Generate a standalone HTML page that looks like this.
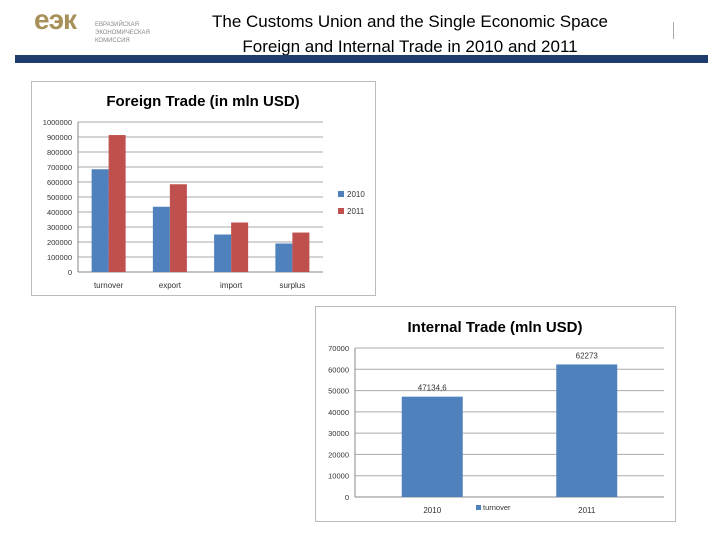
<!DOCTYPE html>
<html><head><meta charset="utf-8"><style>
body{margin:0;width:720px;height:540px;background:#fff;position:relative;overflow:hidden;font-family:"Liberation Sans",sans-serif}
.a{position:absolute}
</style></head><body>
<div class="a" style="left:34px;top:4px;font:bold 28px 'Liberation Sans',sans-serif;color:#a8905a;letter-spacing:-1px">еэк</div>
<div class="a" style="left:95px;top:21px;font-size:6px;line-height:8px;color:#888">ЕВРАЗИЙСКАЯ<br>ЭКОНОМИЧЕСКАЯ<br>КОМИССИЯ</div>
<div class="a" style="left:150px;top:9px;width:520px;text-align:center;font-size:17px;line-height:25px;color:#000">The Customs Union and the Single Economic Space<br>Foreign and Internal Trade in 2010 and 2011</div>
<div class="a" style="left:673px;top:22px;width:1px;height:17px;background:#aaa"></div>
<div class="a" style="left:15px;top:55px;width:693px;height:8px;background:#1f3c6e"></div>
<svg class="a" style="left:0;top:0" width="720" height="540" id="svg"></svg>
<script>
const fCats=["turnover","export","import","surplus"];
const f2010=[685000,435000,250000,190000];
const f2011=[913000,585000,330000,263000];
const fTicks=[0,100000,200000,300000,400000,500000,600000,700000,800000,900000,1000000];
const iCats=["2010","2011"];
const iVals=[47134.6,62273];
const iLabels=["47134,6","62273"];
const iTicks=[0,10000,20000,30000,40000,50000,60000,70000];
const NS="http://www.w3.org/2000/svg",svg=document.getElementById('svg');
function el(t,a,txt){const e=document.createElementNS(NS,t);for(const k in a)e.setAttribute(k,a[k]);if(txt!=null)e.textContent=txt;svg.appendChild(e);return e;}
// foreign chart
let box=el('rect',{x:31.5,y:81.5,width:344,height:214,fill:'#fff',stroke:'#bbb'});

let t=el('text',{x:203,y:106,'text-anchor':'middle','font-size':15,'font-weight':'bold',fill:'#000'},'Foreign Trade (in mln USD)');

const fx0=78,fx1=323,fy0=272,fy1=122;
const fy=v=>fy0-(v/1000000)*(fy0-fy1);
fTicks.forEach(v=>{
 let g=el('line',{x1:fx0,x2:fx1,y1:fy(v),y2:fy(v),stroke:v?'#aaa':'#888','stroke-width':1});
 
 let l=el('text',{x:fx0-6,y:fy(v)+3,'text-anchor':'end','font-size':7.5,fill:'#333'},String(v));
 
});
el('line',{x1:fx0,x2:fx0,y1:fy1,y2:fy0,stroke:'#888'});
const cw=(fx1-fx0)/fCats.length;
fCats.forEach((c,i)=>{
 const cx=fx0+cw*i+cw/2;
 let b1=el('rect',{x:cx-17,y:fy(f2010[i]),width:17,height:fy0-fy(f2010[i]),fill:'#4f81bd'});
 
 let b2=el('rect',{x:cx,y:fy(f2011[i]),width:17,height:fy0-fy(f2011[i]),fill:'#c0504d'});
 
 let l=el('text',{x:cx,y:288,'text-anchor':'middle','font-size':8,fill:'#333'},c);
 
});
[['2010','#4f81bd',195],['2011','#c0504d',212]].forEach(([n,c,y])=>{
 let s=el('rect',{x:338,y:y-4,width:6,height:6,fill:c});
 
 let tx=el('text',{x:347,y:y+2,'font-size':8,fill:'#333'},n);
 
});
// internal chart
box=el('rect',{x:315.5,y:306.5,width:360,height:215,fill:'#fff',stroke:'#bbb'});

t=el('text',{x:495,y:332,'text-anchor':'middle','font-size':15,'font-weight':'bold',fill:'#000'},'Internal Trade (mln USD)');

const ix0=355,ix1=664,iy0=497,iy1=348;
const iy=v=>iy0-(v/70000)*(iy0-iy1);
iTicks.forEach(v=>{
 let g=el('line',{x1:ix0,x2:ix1,y1:iy(v),y2:iy(v),stroke:v?'#aaa':'#888'});
 
 let l=el('text',{x:ix0-6,y:iy(v)+3,'text-anchor':'end','font-size':7.5,fill:'#333'},String(v));
 
});
el('line',{x1:ix0,x2:ix0,y1:iy1,y2:iy0,stroke:'#888'});
const icw=(ix1-ix0)/iCats.length;
iCats.forEach((c,i)=>{
 const cx=ix0+icw*i+icw/2;
 let b=el('rect',{x:cx-30.5,y:iy(iVals[i]),width:61,height:iy0-iy(iVals[i]),fill:'#4f81bd'});
 
 let v=el('text',{x:cx,y:iy(iVals[i])-6,'text-anchor':'middle','font-size':8,fill:'#333'},iLabels[i]);
 
 let l=el('text',{x:cx,y:513,'text-anchor':'middle','font-size':8,fill:'#333'},c);
 
});
let s=el('rect',{x:476,y:505,width:5,height:5,fill:'#4f81bd'});

let lt=el('text',{x:483,y:510,'font-size':7.5,fill:'#333'},'turnover');

</script>
</body></html>
